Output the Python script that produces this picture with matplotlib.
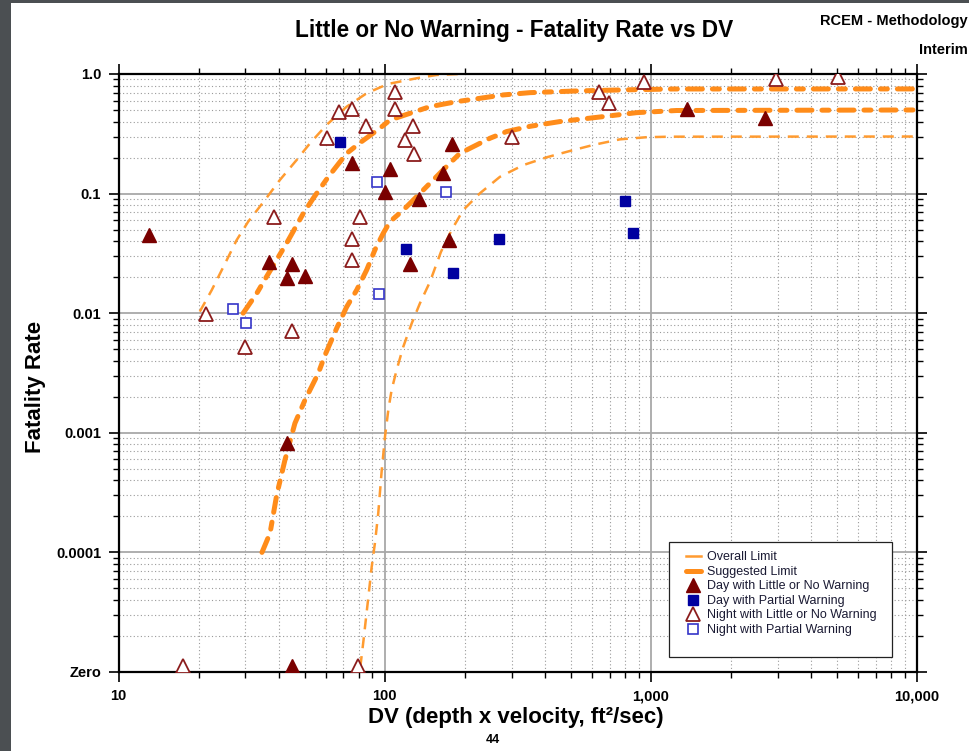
import matplotlib.pyplot as plt
import numpy as np
from matplotlib.lines import Line2D
from matplotlib.patches import Rectangle
from matplotlib.ticker import FixedLocator, FixedFormatter, LogLocator, NullFormatter

plt.rcParams['font.family'] = ['Liberation Sans', 'DejaVu Sans']

# "Zero" sits at the bottom of the log axis
ZERO = 1e-5
ZERO_MARK = 1.12e-5   # zero-fatality points rest on the Zero line

# observed events: DV (ft2/sec) and fatality rate (0 = no fatalities)
day_little_dv = [13.0, 36.9, 45.0, 43.1, 50.1, 75.2, 104.7, 100, 134.6, 166, 179.5,
                 174.4, 124.5, 43.1, 1371, 2684, 44.9]
day_little_fr = [0.045, 0.027, 0.0258, 0.0196, 0.0205, 0.179, 0.16, 0.1025, 0.090, 0.148,
                 0.258, 0.041, 0.0258, 0.00082, 0.51, 0.426, 0]

day_partial_dv = [67.9, 120, 180, 268.5, 803, 859]
day_partial_fr = [0.27, 0.0342, 0.0216, 0.0415, 0.0873, 0.0471]

night_little_dv = [21.3, 29.9, 45.0, 38.4, 60.8, 67.1, 75.3, 84.8, 80.9, 75.5, 75.2, 109,
                   109.7, 128.1, 119.6, 128.8, 300, 640, 697, 942, 2953, 5035, 17.5, 79.4]
night_little_fr = [0.00985, 0.00519, 0.0071, 0.0634, 0.29, 0.484, 0.507, 0.367, 0.0634,
                   0.0417, 0.0279, 0.711, 0.507, 0.367, 0.281, 0.214, 0.296, 0.711, 0.575,
                   0.863, 0.903, 0.95, 0, 0]

night_partial_dv = [27.0, 30.1, 93.3, 95.2, 169.4]
night_partial_fr = [0.0108, 0.00833, 0.126, 0.0144, 0.1037]

# limit curves
overall_hi_dv = [20.2, 22.4, 24.8, 27.8, 30.7, 35.5, 40.4, 46.7, 52.4, 60.5, 72.0, 85.6,
                 102.9, 131.9, 156.8, 190]
overall_hi_fr = [0.0103, 0.0156, 0.0245, 0.0409, 0.0582, 0.0884, 0.130, 0.191, 0.263,
                 0.375, 0.533, 0.690, 0.825, 0.921, 0.981, 1.0]

overall_lo_dv = [81.0, 83.3, 86.6, 89.4, 91.9, 94.6, 97.4, 100.3, 103.2, 106.2, 110.9,
                 117.5, 126.4, 135.7, 148.0, 162.7, 178.5, 197.4, 228, 271, 331.7, 406,
                 496.6, 607.6, 765, 964, 1180, 10000]
overall_lo_fr = [1.1e-5, 1.85e-5, 4.0e-5, 7.6e-5, 0.000119, 0.000212, 0.000473, 0.000928,
                 0.00155, 0.00228, 0.00335, 0.00525, 0.00823, 0.0121, 0.0183, 0.0325,
                 0.0496, 0.0729, 0.1006, 0.138, 0.173, 0.201, 0.227, 0.255, 0.284, 0.296,
                 0.299, 0.30]

suggested_hi_dv = [29.4, 33.1, 36.0, 42.8, 49.5, 53.9, 61.4, 72.0, 81.9, 96.0, 104.7,
                   124.5, 148.0, 186.4, 279, 351.5, 526, 765, 1214, 10000]
suggested_hi_fr = [0.0100, 0.0147, 0.0202, 0.0384, 0.0684, 0.0913, 0.138, 0.217, 0.272,
                   0.352, 0.412, 0.469, 0.533, 0.587, 0.668, 0.698, 0.721, 0.735, 0.749, 0.75]

suggested_lo_dv = [34.6, 37.1, 39.3, 42.2, 46.0, 50.2, 56.3, 59.7, 66.0, 72.0, 78.5, 85.6,
                   91.9, 98.8, 104.7, 117.5, 131.9, 148.0, 166.0, 191.8, 248.6, 287.2,
                   351.5, 455.4, 662.4, 884.6, 1250, 10000]
suggested_lo_fr = [0.0001, 0.000145, 0.000302, 0.000592, 0.0012, 0.00188, 0.00314,
                   0.00447, 0.00747, 0.0113, 0.0156, 0.0230, 0.0338, 0.0466, 0.0582,
                   0.0729, 0.0942, 0.122, 0.158, 0.217, 0.290, 0.330, 0.365, 0.400,
                   0.440, 0.475, 0.495, 0.50]

x_ticks = [10, 100, 1000, 10000]
x_labels = ['10', '100', '1,000', '10,000']
y_ticks = [1e-5, 1e-4, 1e-3, 1e-2, 1e-1, 1.0]
y_labels = ['Zero', '0.0001', '0.001', '0.01', '0.1', '1.0']

thin_col = '#ff9b30'
thick_col = '#ff8c1a'
maroon = '#7a0000'
navy = '#0000a0'


def zero_to_mark(vals):
    return [ZERO_MARK if v == 0 else v for v in vals]


fig = plt.figure(figsize=(9.69, 7.51), dpi=100)
ax = fig.add_axes([0.1223, 0.1052, 0.8240, 0.7963])
ax.set_xscale('log')
ax.set_yscale('log')
ax.set_xlim(10, 10000)
ax.set_ylim(ZERO, 1.0)

thin = dict(color=thin_col, lw=1.8, ls=(0, (4.4, 3.2)))
thick = dict(color=thick_col, lw=3.6, ls=(0, (3, 2.0, 1.4, 2.0)), dash_capstyle='round')
ax.plot(overall_hi_dv, overall_hi_fr, **thin)
ax.plot(overall_lo_dv, overall_lo_fr, **thin)
ax.plot(suggested_hi_dv, suggested_hi_fr, **thick)
ax.plot(suggested_lo_dv, suggested_lo_fr, **thick)

tri = dict(ls='none', marker='^', ms=9.5, zorder=3)
sq = dict(ls='none', marker='s', ms=7.3, zorder=3)
ax.plot(day_little_dv, zero_to_mark(day_little_fr), mfc=maroon, mec=maroon, mew=1, **tri)
ax.plot(day_partial_dv, day_partial_fr, mfc=navy, mec=navy, mew=1, **sq)
ax.plot(night_little_dv, zero_to_mark(night_little_fr), mfc='white', mec='#8b1c1c', mew=1.3, **tri)
ax.plot(night_partial_dv, night_partial_fr, mfc='white', mec='#3535c8', mew=1.2, **sq)

# axes, ticks, grid
ax.xaxis.set_major_locator(FixedLocator(x_ticks))
ax.xaxis.set_major_formatter(FixedFormatter(x_labels))
ax.xaxis.set_minor_locator(LogLocator(base=10, subs=np.arange(2, 10), numticks=50))
ax.xaxis.set_minor_formatter(NullFormatter())
ax.yaxis.set_major_locator(FixedLocator(y_ticks))
ax.yaxis.set_major_formatter(FixedFormatter(y_labels))
ax.yaxis.set_minor_locator(LogLocator(base=10, subs=np.arange(2, 10), numticks=50))
ax.yaxis.set_minor_formatter(NullFormatter())

ax.tick_params(which='both', direction='out', top=True, right=True,
               labeltop=False, labelright=False)
ax.tick_params(which='major', length=7.5, width=1.2, pad=5, labelsize=10.5)
ax.tick_params(which='minor', length=4, width=1)
for lbl in ax.get_xticklabels() + ax.get_yticklabels():
    lbl.set_fontweight('bold')
for s in ax.spines.values():
    s.set_linewidth(1.6)

ax.set_axisbelow(True)
ax.grid(True, which='major', color='#a8a8a8', lw=1.3)
ax.grid(True, which='minor', color='#9a9a9a', lw=0.8, ls=(0, (1, 2.2)))

# legend in its own box
ax.add_patch(Rectangle((0.6898, 0.0256), 0.2785, 0.1923, transform=ax.transAxes,
                       facecolor='white', edgecolor='#222222', lw=0.9, zorder=4))
handles = [
    Line2D([], [], color=thin_col, lw=1.8),
    Line2D([], [], color=thick_col, lw=3.6, solid_capstyle='round'),
    Line2D([], [], ls='none', marker='^', ms=9.5, mfc=maroon, mec=maroon),
    Line2D([], [], ls='none', marker='s', ms=7.3, mfc=navy, mec=navy),
    Line2D([], [], ls='none', marker='^', ms=9.5, mfc='white', mec='#8b1c1c', mew=1.3),
    Line2D([], [], ls='none', marker='s', ms=7.3, mfc='white', mec='#3535c8', mew=1.2),
]
labels = ['Overall Limit', 'Suggested Limit', 'Day with Little or No Warning',
          'Day with Partial Warning', 'Night with Little or No Warning',
          'Night with Partial Warning']
leg = ax.legend(handles, labels, loc='upper left', bbox_to_anchor=(0.7107, 0.2015),
                borderpad=0, borderaxespad=0, frameon=False, fontsize=9,
                handlelength=1.2, handletextpad=0.5, labelspacing=0.2)
leg.set_zorder(5)
for t in leg.get_texts():
    t.set_color('#1a1a33')

# page text
fig.text(514 / 969, 1 - 30 / 751, 'Little or No Warning - Fatality Rate vs DV',
         ha='center', va='center', fontsize=16.3, fontweight='bold')
fig.text(968 / 969, 1 - 21 / 751, 'RCEM - Methodology', ha='right', va='center',
         fontsize=10.5, fontweight='bold')
fig.text(968 / 969, 1 - 50 / 751, 'Interim', ha='right', va='center',
         fontsize=10.5, fontweight='bold')
fig.text(35 / 969, 1 - 386.5 / 751, 'Fatality Rate', rotation=90, ha='center',
         va='center', fontsize=16, fontweight='bold')
fig.text(516 / 969, 1 - 718 / 751, 'DV (depth x velocity, ft\u00b2/sec)', ha='center',
         va='center', fontsize=16, fontweight='bold')
fig.text(493 / 969, 1 - 740 / 751, '44', ha='center', va='center', fontsize=9,
         fontweight='bold')

# dark viewer border
fig.add_artist(Rectangle((0, 0), 11 / 969, 1, transform=fig.transFigure,
                         facecolor='#4b4f52', edgecolor='none'))
fig.add_artist(Rectangle((0, 1 - 2.5 / 751), 1, 2.5 / 751, transform=fig.transFigure,
                         facecolor='#4b4f52', edgecolor='none'))

fig.savefig('out.png', dpi=100)
